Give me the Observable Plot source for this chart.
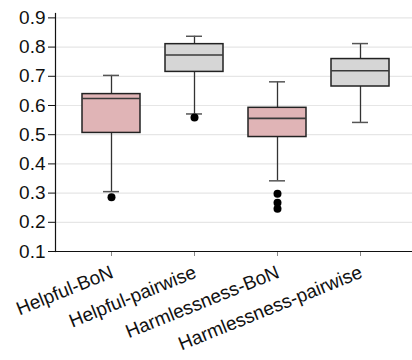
<!DOCTYPE html>
<html>
<head>
<meta charset="utf-8">
<script src="https://cdn.jsdelivr.net/npm/d3@7"></script>
<script src="https://cdn.jsdelivr.net/npm/@observablehq/plot@0.6"></script>
<style>
  html, body { margin: 0; padding: 0; background: #fff; }
</style>
</head>
<body>
<div id="chart"></div>
<script>
const categories = ["Helpful-BoN", "Helpful-pairwise", "Harmlessness-BoN", "Harmlessness-pairwise"];
const whiskerLow = [0.305, 0.571, 0.342, 0.542];
const q1 = [0.506, 0.715, 0.492, 0.665];
const median = [0.624, 0.773, 0.556, 0.719];
const q3 = [0.639, 0.810, 0.592, 0.759];
const whiskerHigh = [0.703, 0.837, 0.681, 0.812];
const outliers = [[0.286], [0.559], [0.298, 0.267, 0.246], []];
const fills = ["#e0b4b6", "#d6d6d6", "#e0b4b6", "#d6d6d6"];
const yTicks = [0.1, 0.2, 0.3, 0.4, 0.5, 0.6, 0.7, 0.8, 0.9];

const boxes = categories.map((c, i) => ({
  cat: c, lo: whiskerLow[i], q1: q1[i], med: median[i], q3: q3[i], hi: whiskerHigh[i], fill: fills[i]
}));
const outlierPts = categories.flatMap((c, i) => outliers[i].map(v => ({cat: c, v})));

const chart = Plot.plot({
  width: 412,
  height: 360,
  marginLeft: 55,
  marginRight: 0,
  marginTop: 13,
  marginBottom: 109,
  style: {fontFamily: "'Liberation Sans', Arial, sans-serif", fontSize: "19px", color: "#111", background: "#fff"},
  x: {domain: categories, range: [55, 416], paddingInner: 0.307, paddingOuter: 0.31, label: null},
  y: {domain: [0.1, 0.915], label: null},
  color: {type: "identity"},
  marks: [
    Plot.gridY(yTicks, {stroke: "#e6e6e6", strokeOpacity: 1, strokeWidth: 1.2}),
    Plot.ruleX(boxes, {x: "cat", y1: "lo", y2: "q1", stroke: "#333", strokeWidth: 1.3}),
    Plot.ruleX(boxes, {x: "cat", y1: "q3", y2: "hi", stroke: "#333", strokeWidth: 1.3}),
    Plot.tickY(boxes, {x: "cat", y: "lo", stroke: "#555", strokeWidth: 1.5, insetLeft: 21, insetRight: 21}),
    Plot.tickY(boxes, {x: "cat", y: "hi", stroke: "#555", strokeWidth: 1.5, insetLeft: 21, insetRight: 21}),
    Plot.barY(boxes, {x: "cat", y1: "q1", y2: "q3", fill: "fill", stroke: "#222", strokeWidth: 1.5}),
    Plot.tickY(boxes, {x: "cat", y: "med", stroke: "#3a3a3a", strokeWidth: 1.6}),
    Plot.dot(outlierPts, {x: "cat", y: "v", r: 4, fill: "#000", stroke: "none"}),
    Plot.axisY(yTicks, {tickSize: 7, tickPadding: 3, tickFormat: d3.format(".1f"), stroke: "#111", fontSize: 19}),
    Plot.axisX({tickSize: 5, tickFormat: () => "", stroke: "#888"}),
    Plot.text(categories, {x: d => d, frameAnchor: "bottom", dx: -2, dy: 13, rotate: -22, textAnchor: "end", lineAnchor: "top", fontSize: 19, fill: "#111"}),
    Plot.ruleY([0.1], {stroke: "#111", strokeWidth: 1.2}),
    Plot.frame({anchor: "left", stroke: "#111", strokeWidth: 1.2})
  ]
});
document.getElementById("chart").appendChild(chart);
</script>
</body>
</html>
